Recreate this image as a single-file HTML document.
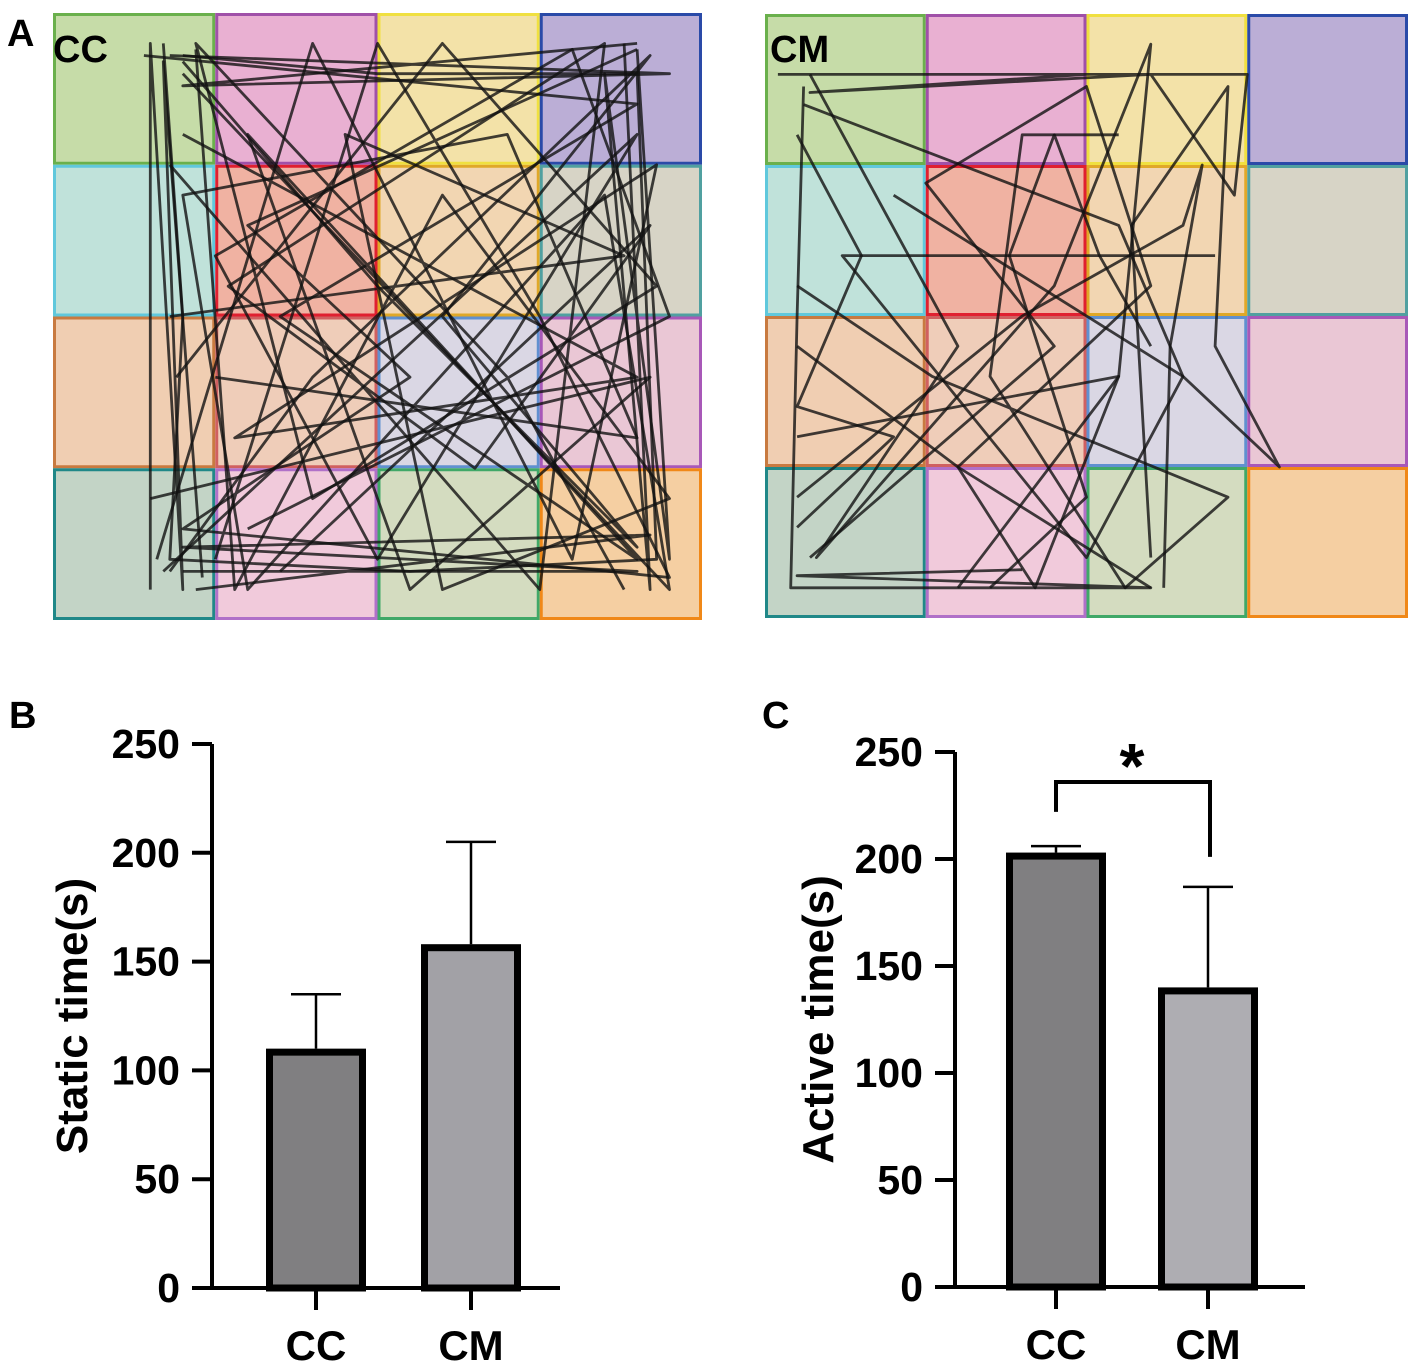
<!DOCTYPE html>
<html><head><meta charset="utf-8"><style>
html,body{margin:0;padding:0;background:#fff;}
svg{display:block;font-family:"Liberation Sans",Arial,sans-serif;}
</style></head><body>
<svg id="root" width="1418" height="1366" viewBox="0 0 1418 1366" xmlns="http://www.w3.org/2000/svg">
<g id="gridCC"></g>
<g id="gridCM"></g>
<text x="7" y="46" font-size="38" font-weight="bold">A</text>
<text x="53" y="62" font-size="38" font-weight="bold">CC</text>
<text x="770" y="62" font-size="38" font-weight="bold">CM</text>
<text x="9" y="728" font-size="38" font-weight="bold">B</text>
<text x="762" y="728" font-size="38" font-weight="bold">C</text>
<g id="chartB"></g>
<g id="chartC"></g>
</svg>
<script>
// Chart data
const categories = ["CC", "CM"];
const staticMeans = [110, 158];
const staticErr = [25, 47];
const activeMeans = [203, 140];
const activeErr = [3, 47];
const yTicks = [0, 50, 100, 150, 200, 250];

const NS = "http://www.w3.org/2000/svg";
function mk(tag, attrs, parent) {
  const e = document.createElementNS(NS, tag);
  for (const k in attrs) e.setAttribute(k, attrs[k]);
  parent.appendChild(e);
  return e;
}

// Arena grids
const fills = [
  ["#c6dca8","#e9b0d2","#f3e2a8","#bbaed6"],
  ["#c0e2da","#f0b2a2","#f2d6b2","#d7d4c6"],
  ["#f0ceb2","#efcdb9","#dad7e4","#eac7d5"],
  ["#c3d4c6","#f1cadb","#d4dcc0","#f5cfa2"]
];
const strokes = [
  ["#6ab04c","#a050a8","#f0e040","#2a4aa8"],
  ["#60c8dc","#e02030","#e0a828","#50a0a0"],
  ["#c87a40","#d06060","#6090d0","#a858b8"],
  ["#208888","#b070c8","#40a868","#f08818"]
];
function drawGrid(g, x0, y0, w, h) {
  const cw = w / 4, ch = h / 4;
  for (let r = 0; r < 4; r++) for (let c = 0; c < 4; c++) {
    const rc = mk("rect", {x: x0 + c*cw + 1.5, y: y0 + r*ch + 1.5, width: cw - 3, height: ch - 3,
      fill: fills[r][c], stroke: strokes[r][c], "stroke-width": 3}, g);
    
    
  }
}
drawGrid(document.getElementById("gridCC"), 53, 13, 649, 607);
drawGrid(document.getElementById("gridCM"), 765, 14, 643, 604);

// Trajectories (decorative, normalized)
const ccPaths = [
  [[.17,.05],[.2,.5],[.18,.9],[.55,.92],[.93,.9],[.9,.1],[.5,.1],[.2,.07]],
  [[.2,.08],[.5,.45],[.9,.88],[.6,.5],[.92,.07],[.4,.6],[.18,.92]],
  [[.17,.92],[.9,.2],[.5,.9],[.25,.4],[.8,.06],[.95,.5],[.3,.85]],
  [[.2,.1],[.95,.95],[.85,.3],[.3,.95],[.2,.3],[.7,.2],[.9,.7],[.25,.6]],
  [[.16,.9],[.4,.05],[.8,.9],[.93,.25],[.28,.7],[.9,.6],[.2,.2]],
  [[.22,.06],[.28,.95],[.6,.3],[.95,.8],[.6,.95],[.45,.2],[.88,.4],[.18,.5]],
  [[.18,.25],[.75,.95],[.85,.05],[.27,.45],[.65,.75],[.92,.35],[.35,.92]],
  [[.9,.06],[.3,.35],[.55,.6],[.2,.85],[.95,.93],[.75,.5],[.5,.05],[.25,.9]],
  [[.14,.07],[.9,.15],[.35,.5],[.9,.9],[.3,.2],[.55,.95],[.92,.6],[.15,.8]],
  [[.19,.6],[.6,.05],[.93,.45],[.4,.8],[.22,.05],[.7,.6],[.88,.95]],
  [[.15,.95],[.15,.05],[.2,.95],[.17,.08],[.23,.93]],
  [[.88,.05],[.92,.95],[.85,.1],[.95,.9],[.9,.06]],
  [[.2,.92],[.9,.92],[.2,.88],[.92,.86],[.22,.95]],
  [[.18,.07],[.95,.1],[.2,.12],[.9,.05]]
];
const cmPaths = [
  [[.06,.1],[.75,.1],[.73,.3],[.6,.1],[.07,.13],[.5,.1],[.02,.1]],
  [[.06,.12],[.05,.5],[.04,.95],[.6,.95],[.05,.93],[.4,.92]],
  [[.07,.1],[.3,.55],[.08,.9],[.45,.45],[.6,.05],[.55,.6],[.3,.95]],
  [[.06,.15],[.55,.35],[.65,.6],[.5,.9],[.12,.4],[.7,.4]],
  [[.2,.3],[.65,.6],[.8,.75],[.7,.55],[.72,.12],[.57,.35],[.6,.9]],
  [[.05,.45],[.26,.6],[.72,.8],[.56,.95],[.35,.6],[.4,.2],[.55,.2]],
  [[.05,.8],[.4,.5],[.65,.35],[.68,.25],[.63,.55],[.62,.95]],
  [[.07,.9],[.45,.55],[.25,.28],[.5,.12],[.6,.45],[.3,.75],[.6,.95]],
  [[.05,.7],[.55,.6],[.42,.95],[.3,.75],[.05,.55]],
  [[.6,.55],[.52,.4],[.45,.2],[.38,.4],[.5,.8],[.35,.95]],
  [[.05,.2],[.15,.4],[.05,.65],[.2,.7],[.05,.85]]
];
function drawTracks(g, x0, y0, w, h, paths) {
  paths.forEach(p => {
    const pts = p.map(q => (x0 + q[0]*w).toFixed(1) + "," + (y0 + q[1]*h).toFixed(1)).join(" ");
    const pl = mk("polyline", {points: pts, fill: "none", stroke: "#111", "stroke-width": 2.8, "stroke-opacity": .8, "stroke-linejoin": "round"}, g);
    
    
  });
}
drawTracks(document.getElementById("gridCC"), 53, 13, 649, 607, ccPaths);
drawTracks(document.getElementById("gridCM"), 765, 14, 643, 604, cmPaths);

// Bar charts
function drawBar(g, cfg, means, errs) {
  const y = v => cfg.y0 - v * (cfg.y0 - cfg.y250) / 250;
  const ax = mk("line", {x1: cfg.ax, y1: cfg.y250, x2: cfg.ax, y2: cfg.y0 + 2, stroke: "#000", "stroke-width": 4}, g);
  
  
  const xa = mk("line", {x1: cfg.ax - 20, y1: cfg.y0, x2: cfg.xEnd, y2: cfg.y0, stroke: "#000", "stroke-width": 4}, g);
  
  
  yTicks.forEach(t => {
    const tl = mk("line", {x1: cfg.ax - 20, y1: y(t), x2: cfg.ax, y2: y(t), stroke: "#000", "stroke-width": 4}, g);
    
    
    const tx = mk("text", {x: cfg.ax - 32, y: y(t) + 14, "font-size": 41, "font-weight": "bold", "text-anchor": "end"}, g);
    tx.textContent = t;
    
    
  });
  const ttl = mk("text", {x: 0, y: 0, "font-size": 44, "font-weight": "bold", "text-anchor": "middle",
    transform: `translate(${cfg.titleX},${(cfg.y0 + cfg.y250)/2}) rotate(-90)`}, g);
  ttl.textContent = cfg.title;
  
  
  categories.forEach((c, i) => {
    const cx = cfg.centers[i], bw = cfg.bw;
    const top = y(means[i]), et = y(means[i] + errs[i]);
    const el = mk("line", {x1: cx, y1: top, x2: cx, y2: et, stroke: "#000", "stroke-width": 2.5}, g);
    
    
    const cap = mk("line", {x1: cx - 25, y1: et, x2: cx + 25, y2: et, stroke: "#000", "stroke-width": 2.5}, g);
    
    
    const r = mk("rect", {x: cx - bw/2 + 3.5, y: top + 3.5, width: bw - 7, height: cfg.y0 - top - 3.5,
      fill: cfg.colors[i], stroke: "#000", "stroke-width": 7}, g);
    
    
    const tk = mk("line", {x1: cx, y1: cfg.y0, x2: cx, y2: cfg.y0 + 22, stroke: "#000", "stroke-width": 4}, g);
    
    
    const lb = mk("text", {x: cx, y: cfg.y0 + 72, "font-size": 42, "font-weight": "bold", "text-anchor": "middle"}, g);
    lb.textContent = c;
    
    
  });
  return y;
}
drawBar(document.getElementById("chartB"),
  {ax: 212, y0: 1288, y250: 744, xEnd: 560, centers: [316, 471], bw: 100, colors: ["#807f81", "#a2a1a6"], title: "Static time(s)", titleX: 87},
  staticMeans, staticErr);
const yC = drawBar(document.getElementById("chartC"),
  {ax: 955, y0: 1287, y250: 752, xEnd: 1305, centers: [1056, 1208], bw: 100, colors: ["#807f81", "#aeadb2"], title: "Active time(s)", titleX: 833},
  activeMeans, activeErr);

// Significance bracket
const gc = document.getElementById("chartC");
const br = mk("polyline", {points: `1056,${yC(222)} 1056,${yC(236)} 1210,${yC(236)} 1210,${yC(201)}`, fill: "none", stroke: "#000", "stroke-width": 4}, gc);


const st = mk("text", {x: 1132, y: yC(236) + 6, "font-size": 64, "font-weight": "bold", "text-anchor": "middle"}, gc);
st.textContent = "*";


</script>
</body></html>
